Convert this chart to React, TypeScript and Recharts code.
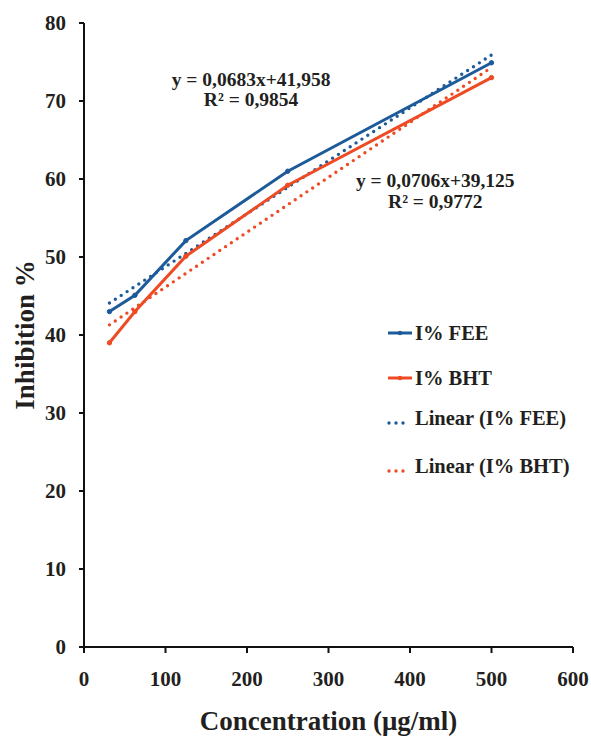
import React from 'react';
import { ComposedChart, Line, XAxis, YAxis, Legend, ReferenceDot, Label } from 'recharts';

// concentrations (µg/ml) and % inhibition
const concentration = [31.25, 62.5, 125, 250, 500];
const inhibitionFEE = [43, 45.1, 52.1, 61, 74.9];
const inhibitionBHT = [39, 43, 50.1, 59.2, 73];

// linear trendline end points (first and last concentration)
const trendRange = [31.25, 500];
const trendFEE = [44.1, 75.9];
const trendBHT = [41.3, 74.3];

const xTicks = [0, 100, 200, 300, 400, 500, 600];
const yTicks = [0, 10, 20, 30, 40, 50, 60, 70, 80];

const BLUE = '#1d5a99';
const RED = '#ee4b25';
const INK = '#231f20';
const FONT = '"Liberation Serif", "Times New Roman", serif';

const feeData = concentration.map((x, i) => ({ x, y: inhibitionFEE[i] }));
const bhtData = concentration.map((x, i) => ({ x, y: inhibitionBHT[i] }));
const feeTrendData = trendRange.map((x, i) => ({ x, y: trendFEE[i] }));
const bhtTrendData = trendRange.map((x, i) => ({ x, y: trendBHT[i] }));

const legendItems = [
  { name: 'I% FEE', color: BLUE, dotted: false, y: 18 },
  { name: 'I% BHT', color: RED, dotted: false, y: 63 },
  { name: 'Linear (I% FEE)', color: BLUE, dotted: true, y: 103 },
  { name: 'Linear (I% BHT)', color: RED, dotted: true, y: 151 },
];

const tickStyle = { fontFamily: FONT, fontSize: 21, fontWeight: 700, fill: INK };
const eqStyle = { fontFamily: FONT, fontSize: 19.5, fontWeight: 700, fill: INK };
const titleStyle = { fontFamily: FONT, fontSize: 27, fontWeight: 700, fill: INK };

const LegendBox = () => (
  <svg width={210} height={170} style={{ display: 'block' }}>
    {legendItems.map((it) => (
      <g key={it.name}>
        {it.dotted ? (
          <line x1={9} x2={30} y1={it.y + 5} y2={it.y + 5} stroke={it.color} strokeWidth={3.4}
            strokeDasharray="0 7" strokeLinecap="round" />
        ) : (
          <g>
            <line x1={8} x2={32} y1={it.y} y2={it.y} stroke={it.color} strokeWidth={3} />
            <circle cx={20} cy={it.y} r={2.2} fill={it.color} />
          </g>
        )}
        <text x={35} y={it.y} dy="0.35em" style={{ fontFamily: FONT, fontSize: 20.5, fontWeight: 700, fill: INK }}>
          {it.name}
        </text>
      </g>
    ))}
  </svg>
);

export default function App() {
  return (
    <div style={{ position: 'absolute', left: 0, top: 0, width: 591, height: 736, background: '#fff' }}>
      <ComposedChart width={591} height={736} margin={{ top: 23, right: 18, left: 0, bottom: 0 }}>
        <XAxis
          type="number"
          dataKey="x"
          domain={[0, 600]}
          ticks={xTicks}
          allowDataOverflow
          height={89}
          tickSize={6}
          tickMargin={18}
          stroke="#111"
          strokeWidth={2}
          tick={tickStyle}
        >
          <Label value="Concentration (μg/ml)" position="insideBottom" offset={6} style={titleStyle} />
        </XAxis>
        <YAxis
          type="number"
          domain={[0, 80]}
          ticks={yTicks}
          width={84}
          tickSize={5}
          tickMargin={13}
          stroke="#111"
          strokeWidth={2}
          tick={tickStyle}
        >
          <Label
            value="Inhibition %"
            angle={-90}
            position="insideLeft"
            offset={24}
            style={{ ...titleStyle, textAnchor: 'middle' }}
          />
        </YAxis>

        <Line data={feeTrendData} dataKey="y" name="Linear (I% FEE)" stroke={BLUE} strokeWidth={3.4}
          strokeDasharray="0 7" strokeLinecap="round" dot={false} activeDot={false} isAnimationActive={false} />
        <Line data={bhtTrendData} dataKey="y" name="Linear (I% BHT)" stroke={RED} strokeWidth={3.4}
          strokeDasharray="0 7" strokeLinecap="round" dot={false} activeDot={false} isAnimationActive={false} />
        <Line data={bhtData} dataKey="y" name="I% BHT" stroke={RED} strokeWidth={3}
          dot={{ r: 2.2, fill: RED, stroke: RED, strokeWidth: 1 }} activeDot={false} isAnimationActive={false} />
        <Line data={feeData} dataKey="y" name="I% FEE" stroke={BLUE} strokeWidth={3}
          dot={{ r: 2.2, fill: BLUE, stroke: BLUE, strokeWidth: 1 }} activeDot={false} isAnimationActive={false} />

        <ReferenceDot x={205} y={72.85} r={0} fill="none" stroke="none"
          label={{ value: 'y = 0,0683x+41,958', position: 'center', style: eqStyle }} />
        <ReferenceDot x={205} y={70.2} r={0} fill="none" stroke="none"
          label={{ value: 'R² = 0,9854', position: 'center', style: eqStyle }} />
        <ReferenceDot x={431} y={59.85} r={0} fill="none" stroke="none"
          label={{ value: 'y = 0,0706x+39,125', position: 'center', style: eqStyle }} />
        <ReferenceDot x={431} y={57.2} r={0} fill="none" stroke="none"
          label={{ value: 'R² = 0,9772', position: 'center', style: eqStyle }} />

        <Legend
          layout="vertical"
          align="center"
          verticalAlign="middle"
          wrapperStyle={{ left: 380, top: 315, width: 210, height: 170 }}
          content={() => <LegendBox />}
        />
      </ComposedChart>
    </div>
  );
}
